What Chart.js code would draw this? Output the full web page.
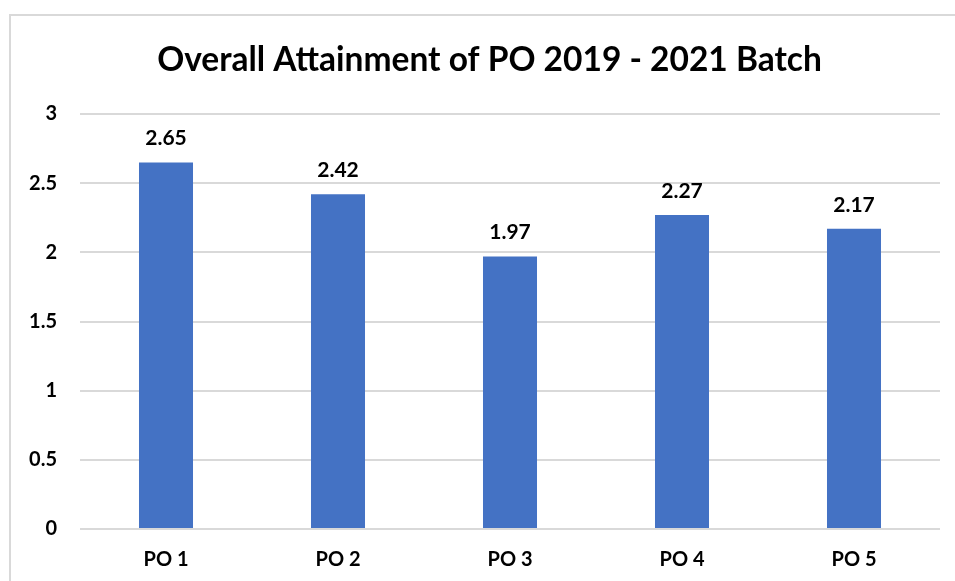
<!DOCTYPE html>
<html>
<head>
<meta charset="utf-8">
<script src="https://cdn.jsdelivr.net/npm/chart.js@4/dist/chart.umd.min.js"></script>
<style>
  html, body { margin: 0; padding: 0; background: #fff; overflow: hidden; }
  #frame { position: absolute; left: 9px; top: 14px; width: 1000px; height: 700px; border: 2px solid #d9d9d9; box-sizing: border-box; }
  #c { position: absolute; left: 0; top: 0; }
</style>
</head>
<body>
<div id="frame"></div>
<canvas id="c" width="955" height="581"></canvas>
<script>
const categories = ["PO 1", "PO 2", "PO 3", "PO 4", "PO 5"];
const attainment = [2.65, 2.42, 1.97, 2.27, 2.17];
const yTicks = [0, 0.5, 1, 1.5, 2, 2.5, 3];
const chartTitle = "Overall Attainment of PO 2019 - 2021 Batch";

const FONT = "Lato, 'Open Sans', sans-serif";

const valueLabels = {
  id: 'valueLabels',
  afterDatasetsDraw(chart) {
    const ctx = chart.ctx;
    ctx.save();
    ctx.font = "bold 21px " + FONT;
    ctx.fillStyle = "#000";
    ctx.textAlign = "center";
    ctx.textBaseline = "middle";
    chart.getDatasetMeta(0).data.forEach((bar, i) => {
      ctx.fillText(attainment[i].toFixed(2), bar.x, bar.y - 24);
    });
    ctx.restore();
  }
};

const titleDraw = {
  id: 'titleDraw',
  afterDraw(chart) {
    const ctx = chart.ctx;
    ctx.save();
    ctx.font = "bold 33.5px " + FONT;
    ctx.fillStyle = "#000";
    ctx.textAlign = "center";
    ctx.textBaseline = "middle";
    ctx.fillText(chartTitle, chart.chartArea.left + 409.5, chart.chartArea.top - 54);
    ctx.restore();
  }
};

new Chart(document.getElementById('c'), {
  type: 'bar',
  data: {
    labels: categories,
    datasets: [{
      data: attainment,
      backgroundColor: '#4472C4',
      borderWidth: 0,
      categoryPercentage: 1,
      barPercentage: 0.314
    }]
  },
  plugins: [valueLabels, titleDraw],
  options: {
    responsive: false,
    animation: false,
    devicePixelRatio: 1,
    layout: { padding: { left: 0, right: 15, top: 114, bottom: 0 } },
    plugins: {
      legend: { display: false },
      tooltip: { enabled: false },
      title: { display: false }
    },
    scales: {
      x: {
        grid: { display: false, drawTicks: false },
        border: { display: false },
        ticks: { color: '#000', font: { family: FONT, size: 20, weight: 'bold' }, padding: 19 },
        afterFit(scale) { scale.height = 52; }
      },
      y: {
        min: 0, max: 3,
        afterBuildTicks(scale) { scale.ticks = yTicks.map(v => ({ value: v })); },
        grid: { color: '#d9d9d9', lineWidth: 2, drawTicks: false },
        border: { display: false },
        ticks: {
          color: '#000',
          font: { family: FONT, size: 20, weight: 'bold' },
          padding: 23,
          callback: (v) => String(v)
        },
        afterFit(scale) { scale.width = 80; }
      }
    }
  }
});
</script>
</body>
</html>
